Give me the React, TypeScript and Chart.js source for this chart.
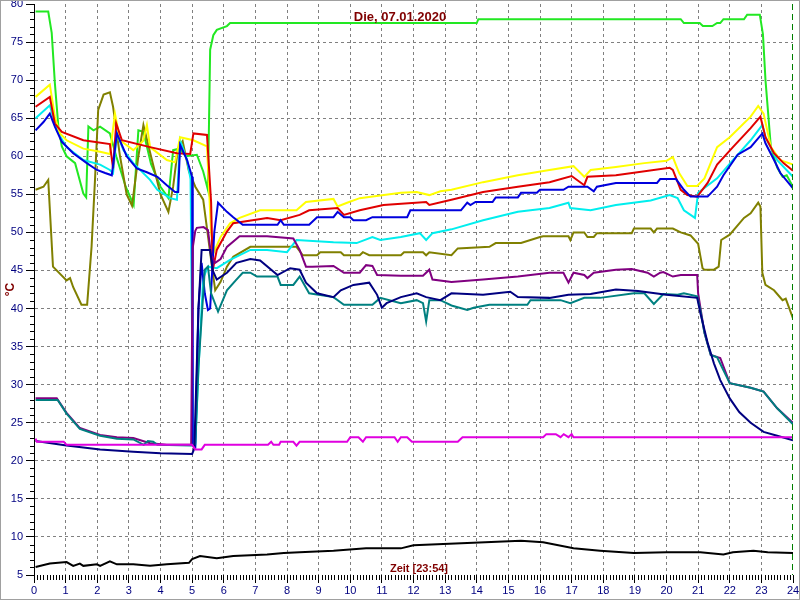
import React, { useEffect, useRef } from 'react';
import { Chart, registerables } from 'chart.js';

Chart.register(...registerables);

const TITLE = 'Die, 07.01.2020';
const X_TITLE = 'Zeit [23:54]';
const Y_TITLE = '°C';
const X_MIN = 0;
const X_MAX = 24;
const Y_MIN = 5;
const Y_MAX = 80;

type P = [number, number];

const green: P[] = [[0.05,79],[0.45,79],[0.56,76.2],[0.66,69.6],[0.77,63.9],[0.88,61.3],[1.03,60],[1.3,59.1],[1.56,55.1],[1.65,54.6],[1.72,63.9],[1.88,63.4],[2.09,63.9],[2.4,63],[2.6,60],[2.9,56],[3.15,53.6],[3.3,63.4],[3.46,63.2],[3.7,59],[4.0,56],[4.25,54.5],[4.4,60.8],[4.6,61],[4.8,60],[5.15,60.2],[5.35,58],[5.5,55.6],[5.57,74],[5.67,75.9],[5.78,76.6],[6.1,77.1],[6.2,77.5],[14.0,77.5],[14.05,78],[20.45,78],[20.55,77.5],[21.05,77.5],[21.15,77.1],[21.45,77.1],[21.6,77.5],[21.7,77.5],[21.8,78],[22.45,78],[22.55,78.6],[22.95,78.6],[23.05,76],[23.13,70],[23.3,61.2],[23.5,58.5],[23.67,57.3],[23.8,57.5],[24,56]];

const yellow: P[] = [[0.05,67.8],[0.5,69.4],[0.66,65.2],[0.82,63],[1.03,62.1],[1.56,61],[2.09,60.6],[2.4,60.3],[2.56,65.6],[2.72,62.1],[3.14,60.8],[3.45,62],[3.57,64.1],[3.67,61.2],[4.2,59.5],[4.46,59.2],[4.62,62.5],[5.04,62.1],[5.47,61.3],[5.6,50],[5.7,47.5],[5.9,49.4],[6.2,51.2],[6.5,51.9],[7.15,52.9],[8.3,52.9],[8.6,54],[9.47,54.4],[9.6,53.4],[9.9,53.9],[10.3,54.5],[11.6,55.2],[12.1,55.3],[12.5,54.9],[12.85,55.4],[13.2,55.6],[14.2,56.6],[15.3,57.5],[16.3,58.2],[17.06,58.7],[17.4,57.3],[17.6,58.2],[18.4,58.6],[19.3,59.1],[20.0,59.4],[20.2,59.9],[20.4,57.8],[20.66,56.1],[20.97,56.1],[21.2,57.1],[21.6,61.2],[22.0,62.5],[22.66,65.2],[22.9,66.6],[23.07,65.6],[23.3,61.2],[23.6,59.5],[24,58.9]];

const red: P[] = [[0.05,66.5],[0.5,67.8],[0.66,64.3],[0.88,63.2],[1.56,62.1],[2.4,61.6],[2.5,58.4],[2.6,64.3],[2.78,62.1],[3.67,61.2],[4.52,60.4],[4.94,60.3],[5.04,63],[5.47,62.8],[5.6,54],[5.65,45],[5.78,47.7],[6.1,50.1],[6.3,51.2],[7.37,51.9],[7.8,51.6],[8.4,52.3],[8.7,52.9],[9.6,53.2],[9.8,52.3],[10.3,52.9],[11.05,53.6],[12.4,54],[12.5,53.6],[13.2,54.3],[14.2,55.3],[15.3,56],[16.3,56.6],[17.0,57.4],[17.4,56.2],[17.5,57.3],[18.4,57.5],[20.1,58.5],[20.2,58.2],[20.45,55.6],[20.66,54.9],[20.97,54.7],[21.3,56.5],[21.6,58.9],[22.1,61.2],[22.66,63.7],[22.97,65.2],[23.13,62.5],[23.4,60.4],[23.7,59.1],[24,58.1]];

const cyan: P[] = [[0.05,65],[0.5,66.7],[0.72,63.4],[1.03,61.2],[1.56,59.5],[2.09,58.9],[2.4,58.2],[2.5,57.8],[2.62,63],[2.83,60.8],[3.14,59.1],[3.67,56.9],[3.9,55.6],[4.3,54.5],[4.52,54.3],[4.62,62.1],[4.84,59.5],[4.95,57],[5.03,23],[5.1,22.2],[5.2,32],[5.35,44],[5.5,45.5],[5.78,45.3],[6.2,46.4],[6.84,47.7],[7.37,47.7],[8.0,47.4],[8.3,49],[9.47,48.7],[10.2,48.6],[10.7,49.4],[10.95,49],[11.6,49.4],[12.2,49.9],[12.4,49],[12.6,49.9],[13.2,50.4],[14.2,51.6],[15.3,52.7],[16.3,53.2],[16.9,53.9],[16.96,53.2],[17.6,52.9],[18.4,53.6],[19.5,54.2],[20.1,54.9],[20.35,54.5],[20.55,52.9],[20.9,51.9],[21.0,55.2],[21.6,57.1],[22.1,59.5],[22.66,62.1],[23.03,64.1],[23.13,62.5],[23.5,59.5],[24,57.3]];

const blue: P[] = [[0.05,63.4],[0.3,64.5],[0.5,65.6],[0.66,63.9],[0.88,61.9],[1.24,60.4],[1.67,59.1],[1.99,58.2],[2.25,57.8],[2.46,57.5],[2.62,63],[2.93,60],[3.25,58.4],[3.57,57.9],[3.9,57.3],[4.2,56.2],[4.46,55.3],[4.56,55.3],[4.62,61.5],[4.84,59.5],[5.0,57.3],[5.02,22],[5.1,21.8],[5.2,40],[5.3,46],[5.4,42],[5.5,39.8],[5.57,40],[5.7,50],[5.82,53.9],[6.1,52.7],[6.3,52],[6.6,51],[7.7,51],[7.8,51.6],[7.9,51],[8.7,51],[8.95,52],[9.47,52],[9.6,52.7],[9.8,52],[10.0,52],[10.1,51.6],[10.5,51.6],[10.7,52],[11.8,52],[11.9,52.9],[13.5,52.9],[13.7,53.9],[13.8,53.6],[13.96,54],[14.5,54],[14.6,54.6],[15.3,54.6],[15.4,55.2],[15.9,55.2],[16.0,55.6],[16.74,55.6],[16.9,56],[17.5,56],[17.7,55.4],[17.8,56],[18.4,56.5],[19.7,56.5],[19.8,57],[20.3,57],[20.55,55.6],[20.76,54.7],[21.3,54.7],[21.6,56],[21.8,57.5],[22.25,60.2],[22.66,61.2],[23.03,63],[23.13,61.7],[23.4,59.5],[23.6,57.8],[24,55.8]];

const olive: P[] = [[0.05,55.6],[0.3,56],[0.45,56.9],[0.6,45.5],[1.03,43.7],[1.14,44],[1.24,42.8],[1.5,40.5],[1.68,40.5],[1.82,48.1],[1.93,57],[2.03,66.1],[2.2,68.1],[2.4,68.4],[2.5,66.5],[2.72,60],[2.93,55],[3.1,53.5],[3.3,60],[3.46,64.1],[3.7,60],[4.0,55],[4.25,52.7],[4.4,56],[4.55,61],[4.7,62],[4.9,58],[5.1,56],[5.35,54.3],[5.6,46.4],[5.73,42.4],[5.9,43.5],[6.1,45.5],[6.3,46.8],[6.84,48.1],[8.3,48.1],[8.5,47],[8.95,47],[9.05,47.4],[9.7,47.4],[9.8,47],[10.3,47],[10.4,47.4],[10.6,47],[11.6,47],[11.7,47.4],[12.3,47.4],[12.4,47],[12.5,47.4],[13.2,47],[13.4,47.9],[14.4,48.1],[14.6,48.6],[15.4,48.6],[16.0,49.4],[16.1,49.5],[16.9,49.5],[16.96,49],[17.06,50],[17.4,50],[17.5,49.4],[17.7,49.4],[17.8,49.9],[18.9,49.9],[18.97,50.5],[19.5,50.5],[19.6,50],[19.7,50.5],[20.2,50.5],[20.45,50],[20.76,49.6],[21.0,48.5],[21.14,45.3],[21.2,45.1],[21.5,45.1],[21.65,45.5],[21.73,49],[22.0,49.7],[22.45,51.9],[22.66,52.5],[22.9,53.9],[22.97,53.4],[23.03,44.7],[23.13,43.1],[23.4,42.4],[23.67,41.1],[23.77,41.3],[24,38.7]];

const purple: P[] = [[0.05,28.2],[0.72,28.2],[1.03,26.3],[1.45,24.3],[2.09,23.4],[2.62,23.1],[3.14,23],[3.67,22.3],[4.2,22.1],[4.97,22.1],[5.02,48],[5.1,50.2],[5.15,50.6],[5.36,50.7],[5.5,50.3],[5.6,47],[5.73,46],[5.9,46.5],[6.1,48.1],[6.5,49.5],[7.37,49.5],[8.2,49.2],[8.4,47.7],[8.6,45.5],[8.8,45.5],[9.47,45.6],[9.8,44.7],[10.3,44.7],[10.5,45.7],[10.7,45.6],[10.85,44.4],[11.6,44.3],[12.3,44.3],[12.5,45.1],[12.6,43.8],[13.2,43.5],[14.2,43.8],[15.3,44.2],[15.7,44.4],[16.3,44.7],[16.74,44.7],[16.9,43.4],[17.06,44.7],[17.4,44.4],[17.5,44],[17.7,44.7],[18.4,45.1],[18.9,45.2],[19.4,44.7],[19.6,44.2],[19.8,44.7],[19.9,44.8],[20.2,44.2],[20.45,44.4],[20.97,44.4],[21.0,42],[21.2,36.8],[21.4,33.9],[21.7,33.5],[22.0,30.2],[22.66,29.6],[23.07,29.1],[23.5,26.9],[24,25]];

const teal: P[] = [[0.05,28],[0.75,28],[1.03,26.2],[1.45,24.2],[2.09,23.3],[2.62,22.9],[3.14,22.8],[3.47,22.1],[3.6,22.6],[3.77,22.5],[3.9,22.1],[4.97,22.0],[5.1,22.2],[5.2,32.3],[5.4,45.1],[5.5,45.5],[5.6,42],[5.82,39.6],[6.1,42.4],[6.4,43.8],[6.6,44.7],[6.84,44.7],[7.05,44.2],[7.7,44.2],[7.8,43.1],[8.2,43.1],[8.4,44.2],[8.7,42],[9.47,41.5],[9.8,40.5],[10.7,40.5],[10.95,41.4],[11.6,40.7],[12.1,41.1],[12.3,40.7],[12.4,38.3],[12.5,41.1],[12.85,41.1],[13.2,40.4],[13.7,39.8],[13.9,40.1],[14.4,40.5],[15.6,40.5],[15.7,41.1],[16.65,41.1],[16.96,40.7],[17.4,41.4],[17.9,41.4],[18.97,42],[19.3,42],[19.6,40.6],[19.9,41.9],[20.35,41.8],[20.55,42],[20.97,41.6],[21.07,39.8],[21.2,36.8],[21.4,33.9],[21.6,33.6],[22.0,30.2],[22.66,29.6],[23.07,29.1],[23.5,26.9],[24,24.8]];

const navy: P[] = [[0.05,22.6],[1.03,22],[2.09,21.5],[3.14,21.2],[4.0,21.0],[5.0,20.9],[5.07,21.6],[5.2,40],[5.3,47.7],[5.57,47.7],[5.65,45],[5.78,43.8],[6.1,44.7],[6.4,46],[6.84,46.5],[7.15,46.3],[7.7,44.4],[8.1,45.3],[8.4,45.1],[8.6,43.4],[8.95,42],[9.47,41.5],[9.7,42.4],[10.1,43.1],[10.6,43.4],[10.85,41.8],[11.0,40.1],[11.15,40.7],[11.6,41.5],[12.1,42],[12.4,41.5],[12.85,41.1],[13.2,42],[14.2,41.8],[15.06,42.2],[15.3,41.5],[16.3,41.4],[16.9,41.8],[17.6,41.9],[18.4,42.5],[19.1,42.3],[20.0,41.8],[20.97,41.4],[21.07,39.4],[21.3,35.5],[21.5,32.8],[21.7,30.6],[22.0,28.2],[22.3,26.4],[22.66,25],[23.07,23.8],[23.5,23.3],[24,22.7]];

const magenta: P[] = [[0.05,22.9],[0.09,22.5],[0.94,22.5],[1.03,22.1],[5.0,22.1],[5.1,21.5],[5.3,21.5],[5.4,22.1],[7.4,22.1],[7.5,22.5],[7.57,22.1],[7.75,22.1],[7.8,22.5],[8.2,22.5],[8.3,22],[8.4,22.5],[9.9,22.5],[10.0,23.1],[10.26,23.1],[10.4,22.5],[10.5,23.1],[11.4,23.1],[11.5,22.5],[11.6,23.1],[11.8,23.1],[11.95,22.5],[13.4,22.5],[13.55,23.1],[16.1,23.1],[16.2,23.5],[16.5,23.5],[16.65,23.1],[16.75,23.5],[16.9,23.1],[17.0,23.5],[17.06,23.1],[24,23.1]];

const black: P[] = [[0.05,6.05],[0.5,6.5],[1.03,6.7],[1.24,6.2],[1.45,6.5],[1.56,6.2],[1.99,6.4],[2.09,6.2],[2.4,6.8],[2.62,6.4],[3.14,6.4],[3.67,6.2],[4.2,6.4],[4.9,6.6],[5.0,7.1],[5.25,7.5],[5.78,7.2],[6.3,7.5],[7.37,7.7],[7.9,7.9],[8.4,8],[9.47,8.2],[10.5,8.5],[11.6,8.5],[12.0,8.9],[13.7,9.2],[15.4,9.5],[16.1,9.3],[17.06,8.5],[17.9,8.2],[18.97,7.9],[20.0,8],[21.07,8],[21.8,7.7],[22.1,8],[22.75,8.2],[23.2,8],[24,7.9]];

const SERIES: { data: P[]; color: string }[] = [
  { data: black, color: '#000000' },
  { data: magenta, color: '#e000e0' },
  { data: navy, color: '#000080' },
  { data: teal, color: '#008080' },
  { data: purple, color: '#800080' },
  { data: blue, color: '#0000dd' },
  { data: red, color: '#e00000' },
  { data: yellow, color: '#ffff00' },
  { data: cyan, color: '#00eeee' },
  { data: olive, color: '#808000' },
  { data: green, color: '#22e822' },
];

const FONT = 'Arial, "Liberation Sans", sans-serif';

export default function App() {
  const ref = useRef<HTMLCanvasElement>(null);
  useEffect(() => {
    const canvas = ref.current;
    if (!canvas) return;
    const extras = {
      id: 'extras',
      afterDraw(chart: any) {
        const ctx = chart.ctx;
        const area = chart.chartArea;
        const xs = chart.scales.x;
        const ys = chart.scales.y;
        ctx.save();
        // minor ticks
        ctx.strokeStyle = '#000';
        ctx.lineWidth = 1;
        ctx.beginPath();
        for (let v = Y_MIN; v <= Y_MAX; v++) {
          if (v % 5 === 0) continue;
          const py = Math.round(ys.getPixelForValue(v)) + 0.5;
          ctx.moveTo(area.left - 4, py);
          ctx.lineTo(area.left, py);
        }
        for (let i = 1; i < (X_MAX - X_MIN) * 10; i++) {
          if (i % 10 === 0) continue;
          const px = Math.round(xs.getPixelForValue(X_MIN + i / 10)) + 0.5;
          ctx.moveTo(px, area.bottom);
          ctx.lineTo(px, area.bottom + 5);
        }
        ctx.stroke();
        // current time marker
        const gx = Math.round(xs.getPixelForValue(24)) - 0.5;
        ctx.strokeStyle = '#008000';
        ctx.setLineDash([6, 4]);
        ctx.beginPath();
        ctx.moveTo(gx, area.top);
        ctx.lineTo(gx, area.bottom);
        ctx.stroke();
        ctx.setLineDash([]);
        // texts
        ctx.fillStyle = '#800000';
        ctx.textAlign = 'center';
        ctx.textBaseline = 'middle';
        ctx.font = 'bold 13px ' + FONT;
        ctx.fillText(TITLE, 400, 17);
        ctx.font = 'bold 11px ' + FONT;
        ctx.fillText(X_TITLE, 419, 569);
        ctx.save();
        ctx.translate(11, (area.top + area.bottom) / 2);
        ctx.rotate(-Math.PI / 2);
        ctx.font = 'bold 12px ' + FONT;
        ctx.fillText(Y_TITLE, 0, 0);
        ctx.restore();
        // frame
        ctx.strokeStyle = '#a0a0a0';
        ctx.strokeRect(0.5, 0.5, 799, 599);
        ctx.restore();
      },
    };
    const chart = new Chart(canvas, {
      type: 'line',
      data: {
        datasets: SERIES.map((s) => ({
          data: s.data.map(([x, y]) => ({ x, y })),
          borderColor: s.color,
          backgroundColor: s.color,
          borderWidth: 2,
          pointRadius: 0,
          tension: 0,
          fill: false,
        })),
      },
      options: {
        animation: false,
        responsive: false,
        layout: { padding: { top: 4, right: 7, left: 0, bottom: 0 } },
        plugins: { legend: { display: false }, tooltip: { enabled: false }, title: { display: false } },
        scales: {
          x: {
            type: 'linear',
            min: X_MIN,
            max: X_MAX,
            afterFit: (s: any) => { s.height = 25; s.paddingLeft = 0; s.paddingRight = 0; },
            ticks: { stepSize: 1, autoSkip: false, maxRotation: 0, color: '#000080', font: { family: FONT, size: 11 }, padding: 1 },
            grid: {
              color: (c: any) => (c.tick && (c.tick.value === 24 || c.tick.value === 0) ? 'rgba(0,0,0,0)' : '#808080'),
              tickColor: '#000',
              tickLength: 8,
              drawTicks: true,
            },
            border: { display: false, dash: [3, 3] },
          },
          y: {
            type: 'linear',
            min: Y_MIN,
            max: Y_MAX,
            afterFit: (s: any) => { s.width = 34; s.paddingTop = 0; s.paddingBottom = 0; },
            ticks: { stepSize: 5, autoSkip: false, color: '#000080', font: { family: FONT, size: 11 }, padding: 3 },
            grid: {
              color: (c: any) => (c.tick && (c.tick.value === 80 || c.tick.value === 5) ? 'rgba(0,0,0,0)' : '#808080'),
              tickColor: '#000',
              tickLength: 8,
              drawTicks: true,
            },
            border: { display: true, color: '#000', width: 1, dash: [3, 3] },
          },
        },
      },
      plugins: [extras],
    });
    return () => chart.destroy();
  }, []);
  return (
    <div style={{ position: 'fixed', left: 0, top: 0, width: 800, height: 600, background: '#fff' }}>
      <canvas ref={ref} width={800} height={600} style={{ display: 'block' }} />
    </div>
  );
}
